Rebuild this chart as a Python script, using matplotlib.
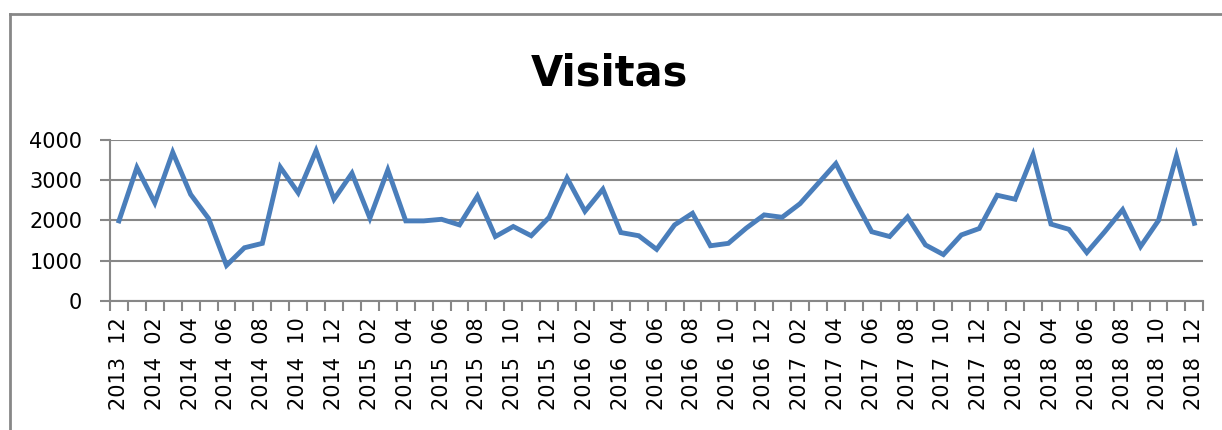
import numpy as np
import pandas as pd
import matplotlib
matplotlib.use("Agg")
import matplotlib.pyplot as plt
from matplotlib.lines import Line2D

# monthly visits, 2013-12 .. 2018-12
months = [p.strftime("%Y %m") for p in pd.period_range("2013-12", "2018-12", freq="M")]
visitas = [1990, 3320, 2440, 3700, 2650, 2050, 880, 1320, 1430,
           3330, 2690, 3740, 2530, 3180, 2060, 3260, 1990, 1990,
           2030, 1890, 2610, 1600, 1850, 1620, 2080, 3060, 2230,
           2780, 1700, 1620, 1280, 1890, 2180, 1370, 1430, 1810,
           2140, 2080, 2420, 2920, 3420, 2550, 1720, 1600, 2090,
           1390, 1150, 1640, 1800, 2630, 2530, 3640, 1910, 1780,
           1200, 1720, 2270, 1350, 2000, 3610, 1930]
yticks = [0, 1000, 2000, 3000, 4000]

grey = "#878787"
blue = "#4A7EBB"

fig = plt.figure(figsize=(12.22, 4.30), dpi=100)
ax = fig.add_axes([110/1222, 1 - 300.7/430, (1203.3 - 110)/1222, (300.7 - 140.3)/430])

x = np.arange(len(visitas))
ax.plot(x, visitas, color=blue, lw=3.5, solid_joinstyle="miter", zorder=3)

ax.set_xlim(-0.5, len(visitas) - 0.5)
ax.set_ylim(0, 4000)
ax.set_yticks(yticks)
ax.set_yticklabels([str(v) for v in yticks], fontsize=15)
ax.yaxis.grid(True, color=grey, lw=1.5)
ax.tick_params(axis="y", length=7, width=1.5, color=grey, pad=13)

ax.set_xticks(x[::2])
ax.set_xticklabels([m.replace(" ", "  ") for m in months[::2]], rotation=90, fontsize=15)
ax.set_xticks(np.arange(-0.5, len(visitas), 1.0), minor=True)
ax.tick_params(axis="x", which="major", length=0, pad=12)
ax.tick_params(axis="x", which="minor", length=7, width=1.5, color=grey)

for side in ["top", "right"]:
    ax.spines[side].set_visible(False)
for side in ["left", "bottom"]:
    ax.spines[side].set_color(grey)
    ax.spines[side].set_linewidth(1.5)

fig.text(0.499, 1 - 74/430, "Visitas", ha="center", va="center",
         fontsize=30, fontweight="bold")

# chart area border (cut at right/bottom)
fig.add_artist(Line2D([10/1222, 10/1222], [0, 1 - 14/430], color=grey, lw=2,
                      transform=fig.transFigure))
fig.add_artist(Line2D([10/1222, 1], [1 - 14/430, 1 - 14/430], color=grey, lw=2,
                      transform=fig.transFigure))

fig.savefig("out.png", dpi=100)
